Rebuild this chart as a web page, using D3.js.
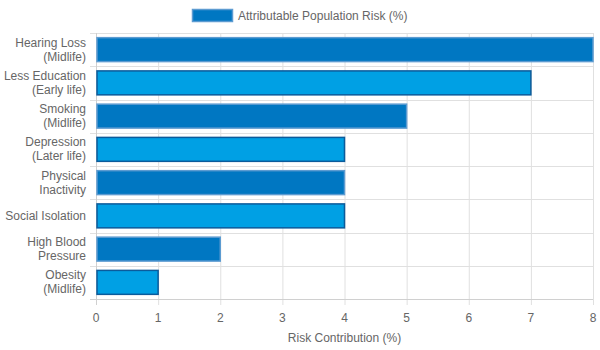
<!DOCTYPE html>
<html><head><meta charset="utf-8">
<script src="https://cdn.jsdelivr.net/npm/d3@7"></script>
<style>body{margin:0;background:#fff;} text{font-family:"Liberation Sans",Arial,sans-serif;}</style>
</head><body><svg id="c" width="600" height="350"></svg>
<script>
const categories = [["Hearing Loss","(Midlife)"],["Less Education","(Early life)"],["Smoking","(Midlife)"],["Depression","(Later life)"],["Physical","Inactivity"],["Social Isolation"],["High Blood","Pressure"],["Obesity","(Midlife)"]];
const values = [8,7,5,4,4,4,2,1];
const xTicks = [0,1,2,3,4,5,6,7,8];
const seriesName = "Attributable Population Risk (%)";
const xTitle = "Risk Contribution (%)";
const fills = ["#0077c2","#00a0e4"];
const strokes = ["#5c9bd1","#0b5b9b"];

const svg = d3.select("#c");
const m = {l:96, r:7, t:33, b:51};
const W = 600, H = 350;
const x = d3.scaleLinear().domain([0,8]).range([m.l, W-m.r]);
const y = d3.scaleBand().domain(d3.range(categories.length)).range([m.t, H-m.b]);
const grid = "#e0e0e0";

// vertical grid
svg.append("g").selectAll("line").data(xTicks).join("line")
  .attr("x1",d=>x(d)+0.5).attr("x2",d=>x(d)+0.5)
  .attr("y1",m.t).attr("y2",H-m.b+6)
  .attr("stroke",grid).attr("stroke-width",1);
// horizontal grid (category boundaries)
const bounds = d3.range(categories.length+1).map(i=> i<categories.length ? y(i) : y(i-1)+y.bandwidth());
svg.append("g").selectAll("line").data(bounds).join("line")
  .attr("x1",m.l-6).attr("x2",W-m.r)
  .attr("y1",d=>Math.round(d)+0.5).attr("y2",d=>Math.round(d)+0.5)
  .attr("stroke",grid).attr("stroke-width",1);
// axis lines
svg.append("line").attr("x1",m.l+0.5).attr("x2",m.l+0.5).attr("y1",m.t).attr("y2",H-m.b+6).attr("stroke","#d0d0d0");
svg.append("line").attr("x1",m.l-6).attr("x2",W-m.r).attr("y1",Math.round(H-m.b)+0.5).attr("y2",Math.round(H-m.b)+0.5).attr("stroke","#d0d0d0");

// bars
const bh = y.bandwidth()*0.72;
svg.append("g").selectAll("rect").data(values).join("rect")
  .attr("x",x(0)+1).attr("y",(d,i)=>y(i)+(y.bandwidth()-bh)/2)
  .attr("width",d=>x(d)-x(0)-1).attr("height",bh)
  .attr("fill",(d,i)=>fills[i%2]).attr("stroke",(d,i)=>strokes[i%2]).attr("stroke-width",1.5);

// y labels
const yl = svg.append("g").selectAll("text").data(categories).join("text")
  .attr("text-anchor","end").attr("fill","#666").attr("font-size",12)
  .attr("x",m.l-10)
  .attr("y",(d,i)=>y(i)+y.bandwidth()/2);
yl.each(function(d){
  const t=d3.select(this);
  const n=d.length;
  d.forEach((s,k)=>{
    t.append("tspan").attr("x",m.l-10).attr("dy", k===0 ? (-(n-1)*7+4)+"px" : "14px").text(s);
  });
});

// x tick labels
svg.append("g").selectAll("text").data(xTicks).join("text")
  .attr("x",d=>x(d)).attr("y",H-m.b+23).attr("text-anchor","middle")
  .attr("fill","#666").attr("font-size",12).text(d=>d);
svg.append("text").attr("x",(x(0)+x(8))/2).attr("y",342).attr("text-anchor","middle")
  .attr("fill","#666").attr("font-size",12).text(xTitle);

// legend
svg.append("rect").attr("x",192.5).attr("y",9.5).attr("width",40).attr("height",12)
  .attr("fill",fills[0]).attr("stroke",strokes[0]).attr("stroke-width",1.5);
svg.append("text").attr("x",238).attr("y",20).attr("fill","#666").attr("font-size",12).text(seriesName);
</script></body></html>
